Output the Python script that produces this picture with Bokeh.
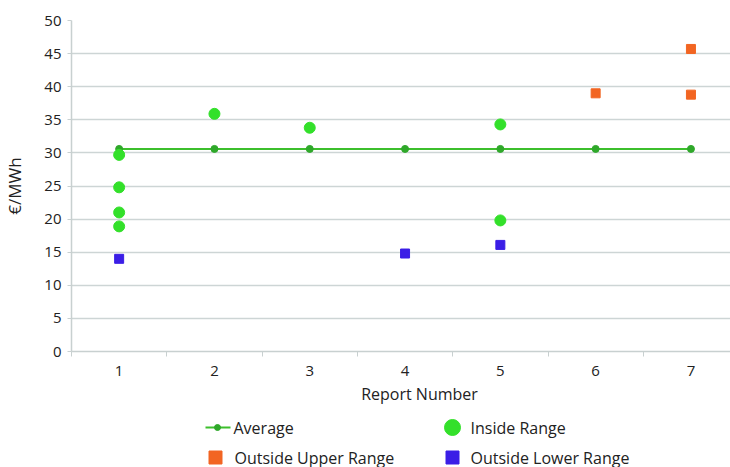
from bokeh.plotting import figure
from bokeh.models import FixedTicker, Range1d
from bokeh.layouts import column
from bokeh.core.properties import value
from bokeh.embed import file_html
from bokeh.resources import INLINE

# ---- data ----
reports = [1, 2, 3, 4, 5, 6, 7]
average = [30.6, 30.6, 30.6, 30.6, 30.6, 30.6, 30.6]

inside_x = [1, 1, 1, 1, 2, 3, 5, 5]
inside_y = [29.7, 24.8, 21.0, 18.9, 35.9, 33.8, 34.3, 19.8]

upper_x = [6, 7, 7]
upper_y = [39.0, 45.7, 38.8]

lower_x = [1, 4, 5]
lower_y = [14.0, 14.8, 16.1]

y_ticks = [0, 5, 10, 15, 20, 25, 30, 35, 40, 45, 50]
series_names = ["Average", "Inside Range", "Outside Upper Range", "Outside Lower Range"]

FONT = "Open Sans"
TXT = "#222222"
AX = "#c8d0d0"
C_AVG_LINE = "#3cbf2c"
C_AVG_DOT = "#2fa82a"
C_IN = "#33e02a"
C_UP = "#f26522"
C_LO = "#3b1ee6"

# ---- main chart ----
p = figure(width=730, height=380, output_backend="svg", toolbar_location=None,
           x_range=Range1d(0.5, 7.415), y_range=Range1d(0, 50),
           min_border_left=71, min_border_top=20, min_border_right=0,
           min_border_bottom=29)
p.outline_line_color = None
p.xgrid.grid_line_color = None
p.ygrid.grid_line_color = "#cdd5d5"
p.ygrid.grid_line_width = 1.5

p.xaxis.ticker = FixedTicker(ticks=reports,
                             minor_ticks=[0.5, 1.5, 2.5, 3.5, 4.5, 5.5, 6.5, 7.5])
p.xaxis.major_tick_line_color = None
p.xaxis.minor_tick_out = 5
p.xaxis.minor_tick_in = 0
p.xaxis.minor_tick_line_color = AX
p.xaxis.axis_line_color = AX
p.xaxis.axis_line_width = 1.5
p.xaxis.major_label_text_font = FONT
p.xaxis.major_label_text_font_size = "15px"
p.xaxis.major_label_text_color = TXT
p.xaxis.major_label_standoff = 8

p.yaxis.ticker = FixedTicker(ticks=y_ticks)
p.yaxis.minor_tick_line_color = None
p.yaxis.major_tick_out = 4
p.yaxis.major_tick_in = 0
p.yaxis.major_tick_line_color = AX
p.yaxis.axis_line_color = AX
p.yaxis.axis_line_width = 1.5
p.yaxis.axis_label = "€/MWh"
p.yaxis.axis_label_text_font = FONT
p.yaxis.axis_label_text_font_style = "normal"
p.yaxis.axis_label_text_font_size = "17px"
p.yaxis.axis_label_text_color = TXT
p.yaxis.axis_label_standoff = 15
p.yaxis.major_label_text_font = FONT
p.yaxis.major_label_text_font_size = "15px"
p.yaxis.major_label_text_color = TXT
p.yaxis.major_label_standoff = 6

p.line(reports, average, line_color=C_AVG_LINE, line_width=2)
p.scatter(reports, average, marker="circle", size=7,
          fill_color=C_AVG_DOT, line_color=C_AVG_DOT)
p.scatter(inside_x, inside_y, marker="circle", size=11,
          fill_color=C_IN, line_color=C_IN)
p.scatter(upper_x, upper_y, marker="square", size=9,
          fill_color=C_UP, line_color=C_UP)
p.scatter(lower_x, lower_y, marker="square", size=9,
          fill_color=C_LO, line_color=C_LO)

# ---- x-axis title and legend (below the chart; frame aligned with chart) ----
q = figure(width=730, height=87, output_backend="svg", toolbar_location=None,
           x_range=Range1d(71, 730), y_range=Range1d(0, 87),
           x_axis_type=None, y_axis_type=None,
           min_border_left=71, min_border_right=0, min_border_top=0,
           min_border_bottom=0)
q.outline_line_color = None
q.xgrid.grid_line_color = None
q.ygrid.grid_line_color = None

q.text(x=[419], y=[74], text=["Report Number"], text_align="center",
       text_baseline="middle", text_font=value(FONT), text_font_size="16px",
       text_color=TXT)

# legend keys
q.line(x=[205, 230], y=[40, 40], line_color=C_AVG_LINE, line_width=2)
q.scatter(x=[217], y=[40], marker="circle", size=6,
          fill_color=C_AVG_DOT, line_color=C_AVG_DOT)
q.scatter(x=[452], y=[40], marker="circle", size=16,
          fill_color=C_IN, line_color=C_IN)
q.scatter(x=[215], y=[10], marker="square", size=13,
          fill_color=C_UP, line_color=C_UP)
q.scatter(x=[452], y=[10], marker="square", size=13,
          fill_color=C_LO, line_color=C_LO)
q.text(x=[233, 470, 234, 470], y=[40, 40, 10, 10], text=series_names,
       text_align="left", text_baseline="middle", text_font=value(FONT),
       text_font_size="16px", text_color=TXT)

open("out.html", "w").write(file_html(column(p, q, spacing=0), INLINE))
